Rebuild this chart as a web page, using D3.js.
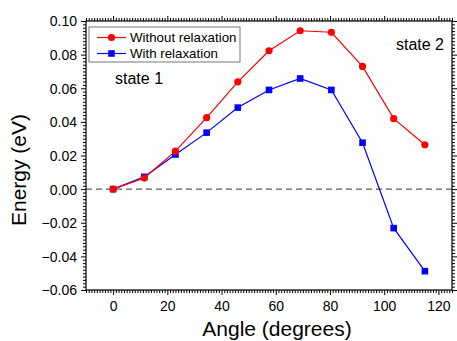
<!DOCTYPE html>
<html><head><meta charset="utf-8">
<script src="https://cdn.jsdelivr.net/npm/d3@7"></script>
<style>
body{margin:0;background:#fff;}
text{font-family:"Liberation Sans",Arial,sans-serif;}
</style></head><body>
<svg id="c" width="457" height="341"></svg>
<script>
const angles = [0, 11.5, 23, 34.5, 46, 57.5, 69, 80.5, 92, 103.5, 115];
const withoutRelax = [0, 0.0066, 0.0226, 0.0425, 0.0638, 0.0823, 0.0942, 0.0933, 0.073, 0.0419, 0.0264];
const withRelax = [0, 0.0073, 0.0206, 0.0336, 0.0485, 0.059, 0.0658, 0.059, 0.0276, -0.0232, -0.0488];
const xTicks = [0, 20, 40, 60, 80, 100, 120];
const yTicks = [-0.06, -0.04, -0.02, 0.00, 0.02, 0.04, 0.06, 0.08, 0.10];
const seriesNames = ["Without relaxation", "With relaxation"];
const seriesColors = ["#ff0000", "#0000ff"];

const svg = d3.select("#c");
const L = 86, R = 452, T = 21, B = 290;
const x = d3.scaleLinear().domain([-10, 125]).range([L, R]);
const y = d3.scaleLinear().domain([-0.06, 0.10]).range([B, T]);

const xMinor = d3.range(-10, 125.01, 1).filter(v => !xTicks.includes(v));
const yMinor = d3.range(-60, 100.01, 2).map(v => v/1000).filter(v => !yTicks.some(t => Math.abs(t - v) < 1e-9));

function drawAxis(axisGen, tr, ticks, minor, size, minorSize, labels) {
  const g = svg.append("g").attr("transform", tr);
  g.call(axisGen.tickValues(minor).tickSize(minorSize).tickFormat(""));
  g.select(".domain").remove();
  const g2 = svg.append("g").attr("transform", tr);
  g2.call(axisGen.tickValues(ticks).tickSize(size).tickFormat(labels ? labels : ""));
  g2.select(".domain").remove();
  return g2;
}
const xf = d => d3.format("d")(d);
const yf = d => d3.format(".2f")(d);

const gb = drawAxis(d3.axisBottom(x), `translate(0,${B})`, xTicks, xMinor, 5, 3, xf);
gb.selectAll("text").attr("font-size", 14).attr("dy", "0.95em").attr("fill", "#000");
drawAxis(d3.axisTop(x), `translate(0,${T})`, xTicks, xMinor, 5, 3, null);
const gl = drawAxis(d3.axisLeft(y), `translate(${L},0)`, yTicks, yMinor, 5, 3, yf);
gl.selectAll("text").attr("font-size", 14).attr("x", -9).attr("dy", "0.35em").attr("fill", "#000");
drawAxis(d3.axisRight(y), `translate(${R},0)`, yTicks, yMinor, 5, 3, null);
svg.selectAll(".tick line").attr("stroke", "#000").attr("stroke-width", 1);

svg.append("rect").attr("x", L).attr("y", T).attr("width", R - L).attr("height", B - T)
  .attr("fill", "none").attr("stroke", "#000").attr("stroke-width", 1.2);

svg.append("line").attr("x1", L).attr("x2", R).attr("y1", y(0)).attr("y2", y(0))
  .attr("stroke", "#333").attr("stroke-dasharray", "6,4").attr("stroke-width", 1);

const line = d3.line().x((d, i) => x(angles[i])).y(d => y(d));
[withRelax, withoutRelax].forEach((vals, k) => {
  const idx = k === 0 ? 1 : 0;
  svg.append("path").datum(vals).attr("d", line).attr("fill", "none")
    .attr("stroke", seriesColors[idx]).attr("stroke-width", 1.2);
  if (idx === 0) {
    svg.selectAll(null).data(vals).enter().append("circle")
      .attr("cx", (d, i) => x(angles[i])).attr("cy", d => y(d)).attr("r", 3.6)
      .attr("fill", seriesColors[0]);
  } else {
    svg.selectAll(null).data(vals).enter().append("rect")
      .attr("x", (d, i) => x(angles[i]) - 3.3).attr("y", d => y(d) - 3.3)
      .attr("width", 6.6).attr("height", 6.6).attr("fill", seriesColors[1]);
  }
});

// legend
const lg = svg.append("g");
lg.append("rect").attr("x", 89).attr("y", 27).attr("width", 151).attr("height", 35)
  .attr("fill", "#fff").attr("stroke", "#777").attr("stroke-width", 1);
seriesNames.forEach((n, i) => {
  const yy = 37.5 + i * 16;
  lg.append("line").attr("x1", 97).attr("x2", 126).attr("y1", yy).attr("y2", yy)
    .attr("stroke", seriesColors[i]).attr("stroke-width", 1.2);
  if (i === 0) lg.append("circle").attr("cx", 111.5).attr("cy", yy).attr("r", 3.6).attr("fill", seriesColors[0]);
  else lg.append("rect").attr("x", 108.2).attr("y", yy - 3.3).attr("width", 6.6).attr("height", 6.6).attr("fill", seriesColors[1]);
  lg.append("text").attr("x", 130).attr("y", yy).attr("dy", "0.35em").attr("font-size", 13.3).text(n);
});

svg.append("text").attr("x", 115).attr("y", 78).attr("dy", "0.35em").attr("font-size", 16).text("state 1");
svg.append("text").attr("x", 444).attr("y", 44).attr("dy", "0.35em").attr("text-anchor", "end").attr("font-size", 16).text("state 2");

svg.append("text").attr("x", 277).attr("y", 336).attr("text-anchor", "middle").attr("font-size", 21).text("Angle (degrees)");
svg.append("text").attr("transform", "translate(26,170) rotate(-90)").attr("text-anchor", "middle").attr("font-size", 21).text("Energy (eV)");
</script></body></html>
